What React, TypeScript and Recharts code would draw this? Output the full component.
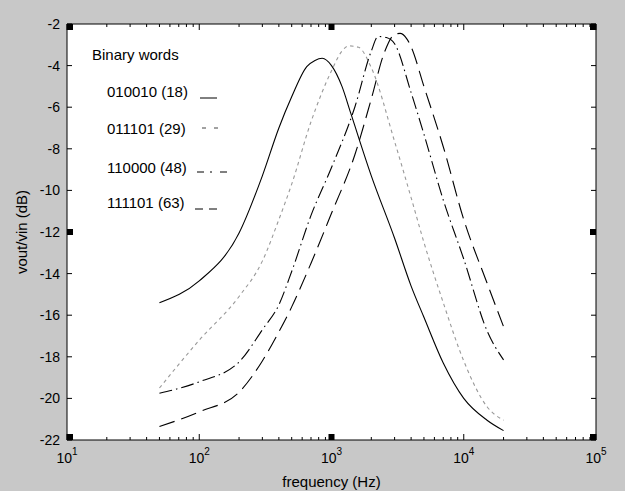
import React from 'react';
import { LineChart, Line, XAxis, YAxis, CartesianGrid, Legend } from 'recharts';

// frequency (Hz) / gain (dB), one pair of arrays per binary word
const freq18 = [50, 100, 200, 300, 400, 500, 650, 750, 850, 1000, 1200, 1400, 2000, 3000, 4000, 5000, 7000, 10000, 15000, 20000];
const db18 = [-15.4, -14.35, -12.05, -9.3, -7.0, -5.5, -4.05, -3.75, -3.65, -4.0, -5.0, -6.3, -9.3, -12.3, -14.6, -16.1, -18.3, -20.0, -21.05, -21.55];

const freq29 = [50, 100, 200, 300, 400, 500, 700, 1000, 1200, 1350, 1600, 2000, 3000, 4000, 5000, 7000, 10000, 15000, 20000];
const db29 = [-19.5, -17.2, -15.1, -13.4, -11.4, -9.7, -6.7, -4.25, -3.3, -3.05, -3.12, -4.1, -7.65, -10.35, -12.5, -15.4, -18.2, -20.4, -21.05];

const freq48 = [50, 100, 200, 300, 400, 500, 700, 1000, 1500, 2000, 2250, 2600, 3000, 4000, 5000, 7000, 10000, 15000, 20000];
const db48 = [-19.75, -19.2, -18.25, -16.7, -15.5, -13.9, -11.2, -8.9, -6.0, -3.3, -2.6, -2.65, -2.95, -5.3, -7.3, -10.46, -13.3, -16.75, -18.15];

const freq63 = [50, 100, 200, 300, 400, 500, 700, 1000, 1500, 2000, 2500, 3000, 3300, 3700, 4000, 5000, 7000, 10000, 15000, 20000];
const db63 = [-21.35, -20.65, -19.7, -18.2, -16.8, -15.6, -13.5, -11.1, -8.3, -5.6, -3.4, -2.5, -2.45, -2.7, -3.1, -5.0, -7.9, -11.4, -14.45, -16.55];

const seriesNames = ['010010 (18)', '011101 (29)', '110000 (48)', '111101 (63)'];

const decadeTicks = [10, 100, 1000, 10000, 100000];
const minorSteps = [2, 3, 4, 5, 6, 7, 8, 9];
const dbTicks = [-22, -20, -18, -16, -14, -12, -10, -8, -6, -4, -2];
const markedFreqs = [10, 1000, 100000];
const markedDb = [-22, -12, -2];

const xTicks = [
  ...decadeTicks,
  ...decadeTicks.slice(0, -1).flatMap((d) => minorSteps.map((m) => d * m)),
].sort((a, b) => a - b);

const zip = (f: number[], db: number[]) => f.map((v, i) => ({ f: v, db: db[i] }));

const series = [
  { name: seriesNames[0], data: zip(freq18, db18), color: '#000', dash: undefined },
  { name: seriesNames[1], data: zip(freq29, db29), color: '#999', dash: '3.5 3.5' },
  { name: seriesNames[2], data: zip(freq48, db48), color: '#000', dash: '13 4 1.5 4' },
  { name: seriesNames[3], data: zip(freq63, db63), color: '#000', dash: '16 7' },
];

const FONT = '"Liberation Sans", Arial, Helvetica, sans-serif';
const BG = '#c8c8c8';

const sqX = (v: number, x: number) => (v === 10 ? x : v === 100000 ? x - 6 : x - 3);
const sqY = (v: number, y: number) => (v === -2 ? y : v === -22 ? y - 6 : y - 3);

const BottomTick = (props: any) => {
  const { x, y, payload } = props;
  const v = payload.value;
  const major = decadeTicks.includes(v);
  return (
    <g>
      <line x1={x} y1={y} x2={x} y2={y - (major ? 6 : 3)} stroke="#000" />
      {markedFreqs.includes(v) && <rect x={sqX(v, x)} y={y - 6} width={6} height={6} fill="#000" />}
      {major && (
        <text x={x} y={y + 23} textAnchor="middle" fontSize={14} fontFamily={FONT} fill="#000">
          10
          <tspan fontSize={10} dy={-8}>{Math.round(Math.log10(v))}</tspan>
        </text>
      )}
    </g>
  );
};

const TopTick = (props: any) => {
  const { x, y, payload } = props;
  const v = payload.value;
  const major = decadeTicks.includes(v);
  return (
    <g>
      <line x1={x} y1={y} x2={x} y2={y + (major ? 6 : 3)} stroke="#000" />
      {markedFreqs.includes(v) && <rect x={sqX(v, x)} y={y} width={6} height={6} fill="#000" />}
    </g>
  );
};

const LeftTick = (props: any) => {
  const { x, y, payload } = props;
  const v = payload.value;
  return (
    <g>
      <line x1={x} y1={y} x2={x + 5} y2={y} stroke="#000" />
      {markedDb.includes(v) && <rect x={x} y={sqY(v, y)} width={6} height={6} fill="#000" />}
      <text x={x - 7} y={y} dy="0.36em" textAnchor="end" fontSize={14} fontFamily={FONT} fill="#000">
        {v}
      </text>
    </g>
  );
};

const RightTick = (props: any) => {
  const { x, y, payload } = props;
  const v = payload.value;
  return (
    <g>
      <line x1={x} y1={y} x2={x - 5} y2={y} stroke="#000" />
      {markedDb.includes(v) && <rect x={x - 6} y={sqY(v, y)} width={6} height={6} fill="#000" />}
    </g>
  );
};

const XLabel = (props: any) => {
  const { x, y, width } = props.viewBox;
  return (
    <text x={x + width / 2} y={y + 47} textAnchor="middle" fontSize={15} fontFamily={FONT} fill="#000">
      frequency (Hz)
    </text>
  );
};

const YLabel = (props: any) => {
  const { x, y, height } = props.viewBox;
  const cx = x + 22;
  const cy = y + height / 2;
  return (
    <text x={cx} y={cy} transform={`rotate(-90 ${cx} ${cy})`} dy="0.36em" textAnchor="middle" fontSize={15} fontFamily={FONT} fill="#000">
      vout/vin (dB)
    </text>
  );
};

// the legend in the figure is hand placed text with little line samples after it
const rowBase = [97, 134, 173, 208];
const samples = [
  { x1: 200, x2: 217, dy: 1, dash: undefined, color: '#000' },
  { x1: 202, x2: 218, dy: -6, dash: '4 8', color: '#444' },
  { x1: 197, x2: 227, dy: -1, dash: '7 6 2 8 7', color: '#000' },
  { x1: 195, x2: 217, dy: 1, dash: '8 6 8', color: '#000' },
];

const WordsLegend = () => (
  <svg width={240} height={225} style={{ display: 'block' }}>
    <text x={92} y={60} fontSize={15} fontFamily={FONT} fill="#000">
      Binary words
    </text>
    {series.map((s, i) => (
      <g key={s.name}>
        <text x={107} y={rowBase[i]} fontSize={15} fontFamily={FONT} fill="#000">
          {s.name}
        </text>
        <line
          x1={samples[i].x1}
          x2={samples[i].x2}
          y1={rowBase[i] + samples[i].dy}
          y2={rowBase[i] + samples[i].dy}
          stroke={samples[i].color}
          strokeDasharray={samples[i].dash}
        />
      </g>
    ))}
  </svg>
);

export default function App() {
  return (
    <div style={{ position: 'absolute', left: 0, top: 0, width: 625, height: 491, background: BG }}>
      <LineChart width={625} height={491} margin={{ top: 23, right: 28, bottom: 0, left: 0 }}>
        <CartesianGrid xAxisId="b" yAxisId="l" horizontal={false} vertical={false} fill="#fff" stroke="none" />
        <XAxis
          xAxisId="b"
          dataKey="f"
          type="number"
          scale="log"
          domain={[10, 100000]}
          ticks={xTicks}
          interval={0}
          allowDataOverflow
          height={51}
          tickSize={0}
          tickMargin={0}
          tickLine={false}
          tick={BottomTick}
          axisLine={{ stroke: '#000' }}
          label={XLabel}
        />
        <XAxis
          xAxisId="t"
          dataKey="f"
          orientation="top"
          type="number"
          scale="log"
          domain={[10, 100000]}
          ticks={xTicks}
          interval={0}
          allowDataOverflow
          height={1}
          tickSize={0}
          tickMargin={0}
          tickLine={false}
          tick={TopTick}
          axisLine={{ stroke: '#000' }}
        />
        <YAxis
          yAxisId="l"
          type="number"
          domain={[-22, -2]}
          ticks={dbTicks}
          interval={0}
          allowDataOverflow
          width={67}
          tickSize={0}
          tickMargin={0}
          tickLine={false}
          tick={LeftTick}
          axisLine={{ stroke: '#000' }}
          label={YLabel}
        />
        <YAxis
          yAxisId="r"
          orientation="right"
          type="number"
          domain={[-22, -2]}
          ticks={dbTicks}
          interval={0}
          allowDataOverflow
          width={1}
          tickSize={0}
          tickMargin={0}
          tickLine={false}
          tick={RightTick}
          axisLine={{ stroke: '#000' }}
        />
        <Legend
          content={WordsLegend}
          layout="horizontal"
          align="center"
          verticalAlign="middle"
          wrapperStyle={{ position: 'absolute', left: 0, top: 0, width: 240, height: 225 }}
        />
        {/* carrier for the box axes on top and right; draws nothing */}
        <Line
          data={series[0].data}
          dataKey="db"
          xAxisId="t"
          yAxisId="r"
          stroke="none"
          dot={false}
          activeDot={false}
          legendType="none"
          isAnimationActive={false}
        />
        {series.map((s) => (
          <Line
            key={s.name}
            name={s.name}
            data={s.data}
            dataKey="db"
            xAxisId="b"
            yAxisId="l"
            type="monotone"
            stroke={s.color}
            strokeWidth={1.1}
            strokeDasharray={s.dash}
            dot={false}
            activeDot={false}
            isAnimationActive={false}
          />
        ))}
      </LineChart>
    </div>
  );
}
